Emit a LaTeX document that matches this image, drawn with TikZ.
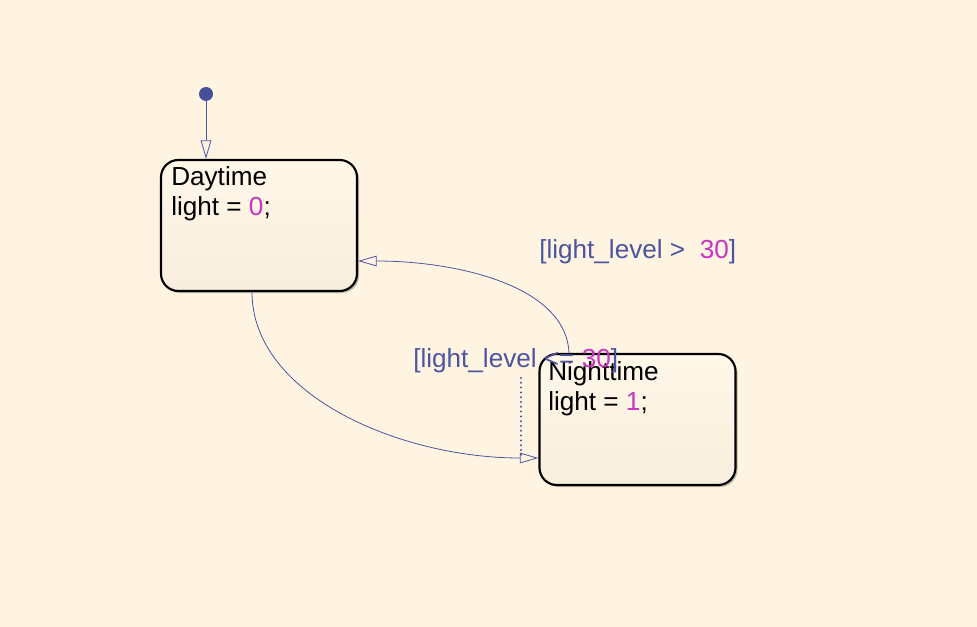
\documentclass[tikz,border=0pt]{standalone}
\usepackage{fontspec}
\setmainfont{Liberation Sans}
\usetikzlibrary{arrows.meta,calc,shadows}
\definecolor{bg}{HTML}{FFF4E2}
\definecolor{lblue}{HTML}{4B55A0}
\definecolor{lmag}{HTML}{C934C2}
\definecolor{dotc}{HTML}{46509A}
\definecolor{boxtop}{HTML}{FFF7E8}
\definecolor{boxbot}{HTML}{F8EEDD}
\tikzset{
  statebox/.style={draw=black, line width=1.6pt, rounded corners=13pt,
    minimum width=147pt, minimum height=98.25pt, inner sep=0pt,
    top color=boxtop, bottom color=boxbot,
    drop shadow={shadow xshift=1.5pt, shadow yshift=-1.5pt, opacity=0.25, fill=black}},
  txt/.style={anchor=base west, inner sep=0pt, font=\fontsize{19.6}{23}\selectfont},
  trans/.style={draw=lblue, line width=0.6pt, -{Triangle[open, length=14pt, width=8pt]}},
}
\begin{document}
\begin{tikzpicture}[x=0.75pt,y=-0.75pt]
\fill[bg] (0,0) rectangle (977,627);
\useasboundingbox (0,0) rectangle (977,627);
\node[statebox] (day) at (259,225.5) {};
\node[statebox] (night) at (637.5,419.5) {};
\node[txt] (dayname) at (171,186) {Daytime};
\node[txt] (dayact) at (171,216) {light = \textcolor{lmag}{0};};
\node[txt] (nightname) at (548,380) {Nighttime};
\node[txt] (nightact) at (548,410) {light = \textcolor{lmag}{1};};
\node[circle, fill=dotc, inner sep=0pt, minimum size=10.5pt] (init) at (206,94) {};
\draw[trans] (init) -- ($(day.north)+(-53,0)$);
\coordinate (t1s) at ($(day.south)+(-7,0)$);
\coordinate (t1e) at ($(night.west)+(0,38.5)$);
\draw[trans] (t1s) .. controls (252,395) and (400,458) .. (t1e);
\coordinate (t2s) at ($(night.north)+(-68.5,0)$);
\coordinate (t2e) at ($(day.east)+(0,35.5)$);
\draw[trans] (t2s) .. controls (566,285) and (455,261) .. (t2e);
\node[txt, text=lblue] (lab2) at (539,258) {[light\_level >\ \ \textcolor{lmag}{30}]};
\node[txt, text=lblue] (lab1) at (413,367) {[light\_level <= \textcolor{lmag}{30}]};
\coordinate (dt) at (521,378);
\coordinate (db) at (521,458);
\draw[lblue, line width=1.7pt, line cap=round, dash pattern=on 0pt off 3.6pt] (dt) -- (db);
\end{tikzpicture}
\end{document}
